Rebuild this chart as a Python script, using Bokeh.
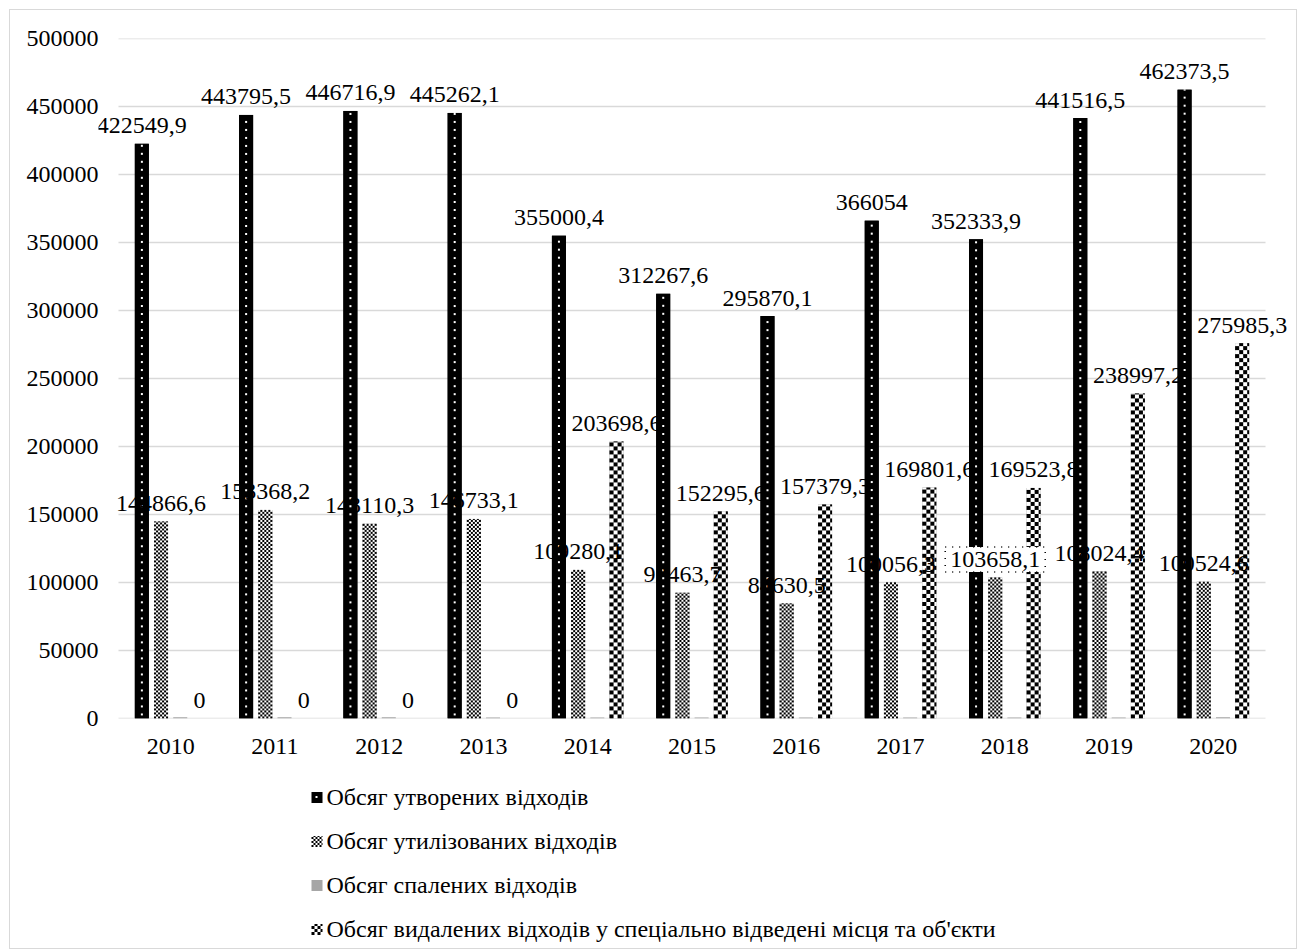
import numpy as np

from bokeh.plotting import figure
from bokeh.layouts import column
from bokeh.models import (ColumnDataSource, Range1d, SingleIntervalTicker, FixedTicker,
                          PrintfTickFormatter)
from bokeh.transform import dodge
from bokeh.embed import file_html
from bokeh.resources import INLINE

# --- data (тис. т) ---
years = ["2010", "2011", "2012", "2013", "2014", "2015", "2016", "2017", "2018", "2019", "2020"]
generated = [422549.9, 443795.5, 446716.9, 445262.1, 355000.4, 312267.6,
             295870.1, 366054, 352333.9, 441516.5, 462373.5]
utilized = [144866.6, 153368.2, 143110.3, 146733.1, 109280.1, 92463.7,
            84630.5, 100056.3, 103658.1, 108024.4, 100524.6]
incinerated = [900, 950, 880, 700, 650, 700, 750, 700, 800, 750, 850]
disposed = [0, 0, 0, 0, 203698.6, 152295.6, 157379.3, 169801.6, 169523.8, 238997.2, 275985.3]

series_names = [
    "Обсяг утворених відходів",
    "Обсяг утилізованих відходів",
    "Обсяг спалених відходів",
    "Обсяг видалених відходів у спеціально відведені місця та об'єкти",
]

y_ticks_step = 50000
y_max = 500000

FONT = "Liberation Serif"
GRID = "#d9d9d9"

# page geometry (content starts 10 px from the page corner, inside the 1 px border)
ORIGIN = 10
W, H_MAIN, H_LEG = 1286, 770, 168
FRAME_LEFT, FRAME_RIGHT = 98, 1294          # drawing area (labels may reach into it)
CAT_LEFT, CAT_RIGHT = 118, 1265             # span of the category slots / gridlines
MB_LEFT = FRAME_LEFT - ORIGIN
MB_RIGHT = ORIGIN + W - FRAME_RIGHT
MB_TOP, MB_BOTTOM = 28, 62
FRAME_H = H_MAIN - MB_TOP - MB_BOTTOM
n_cat = len(years)
CAT_PX = (CAT_RIGHT - CAT_LEFT) / n_cat
PX_PER_UNIT = FRAME_H / y_max

BAR_PX = 14
bw = BAR_PX / CAT_PX
pitch = 19.2 / CAT_PX
offs = [-1.5 * pitch, -0.5 * pitch, 0.5 * pitch, 1.5 * pitch]


def fmt(v):
    v = float(v)
    return str(int(v)) if v.is_integer() else f"{v:.1f}".replace(".", ",")


def rgba(mask, on, off):
    """Two-colour RGBA image (uint32) from a boolean mask."""
    img = np.empty(mask.shape, dtype=np.uint32)
    view = img.view(dtype=np.uint8).reshape(mask.shape + (4,))
    for k in range(3):
        view[..., k] = np.where(mask, on[k], off[k])
    view[..., 3] = 255
    return img


BLACK, WHITE = (0, 0, 0), (255, 255, 255)


def dotted(h, w, step=8):
    yy, xx = np.mgrid[0:h, 0:w]
    c = w // 2
    mask = ((yy % step) >= step // 2 - 1) & ((yy % step) <= step // 2) & (xx >= c - 1) & (xx <= c)
    return rgba(mask, WHITE, BLACK)


def checker(h, w, cell):
    yy, xx = np.mgrid[0:h, 0:w]
    return rgba(((yy // cell) + (xx // cell)) % 2 == 0, BLACK, WHITE)


def solid(h, w, color):
    return rgba(np.ones((h, w), dtype=bool), color, color)


centers = [i + 0.5 for i in range(n_cat)]

p = figure(x_range=Range1d(-(CAT_LEFT - FRAME_LEFT) / CAT_PX, n_cat + (FRAME_RIGHT - CAT_RIGHT) / CAT_PX),
           y_range=Range1d(0, y_max),
           width=W, height=H_MAIN, output_backend="svg", toolbar_location=None,
           min_border_left=MB_LEFT, min_border_right=MB_RIGHT,
           min_border_top=MB_TOP, min_border_bottom=MB_BOTTOM)
p.outline_line_color = None
p.background_fill_color = "white"
p.border_fill_color = "white"

# horizontal gridlines across the category slots
grid_vals = list(range(0, y_max + 1, y_ticks_step))
p.segment(x0=[0] * len(grid_vals), x1=[n_cat] * len(grid_vals), y0=grid_vals, y1=grid_vals,
          line_color=GRID, line_width=1.5)

src = ColumnDataSource(dict(
    xc=centers, generated=generated, utilized=utilized,
    incinerated=incinerated, disposed=disposed,
    lab_gen=[fmt(v) for v in generated],
    lab_util=[fmt(v) for v in utilized],
    lab_disp=[fmt(v) for v in disposed],
    box_alpha=[1.0 if y == "2018" else 0.0 for y in years],
))

fields = ["generated", "utilized", "incinerated", "disposed"]
base_colors = ["black", "#808080", "#a6a6a6", "#808080"]
for off, field, col in zip(offs, fields, base_colors):
    p.vbar(x=dodge("xc", off), top=field, width=bw, source=src,
           fill_color=col, line_color=None)

# pattern fills laid over the bars
textures = {
    "generated": lambda h, w: dotted(h, w),
    "utilized": lambda h, w: checker(h, w, 2),
    "disposed": lambda h, w: checker(h, w, 4),
}
for off, field in zip(offs, fields):
    if field not in textures:
        continue
    vals = src.data[field]
    keep = [i for i, v in enumerate(vals) if round(v * PX_PER_UNIT) > 0]
    tex_src = ColumnDataSource(dict(
        xc=[centers[i] for i in keep],
        img=[textures[field](int(round(vals[i] * PX_PER_UNIT)), BAR_PX) for i in keep],
        base=[0] * len(keep),
        dw=[bw] * len(keep),
        dh=[vals[i] for i in keep],
    ))
    p.image_rgba(image="img", x=dodge("xc", off - bw / 2), y="base",
                 dw="dw", dh="dh", source=tex_src)

label_kw = dict(source=src, text_align="center", text_baseline="alphabetic", y_offset=-18,
                text_font_size="24px", text_color="black", text_font={"value": FONT})
p.text(x=dodge("xc", offs[0]), y="generated", text="lab_gen", **label_kw)
p.text(x=dodge("xc", offs[1]), y="utilized", text="lab_util",
       background_fill_color="white", background_fill_alpha="box_alpha",
       border_line_color="black", border_line_alpha="box_alpha", border_line_dash="1 6",
       border_line_width=1.5, padding=5, **label_kw)
p.text(x=dodge("xc", offs[3]), y="disposed", text="lab_disp", **label_kw)

# axes
p.yaxis.ticker = SingleIntervalTicker(interval=y_ticks_step)
p.yaxis.formatter = PrintfTickFormatter(format="%d")
p.xaxis.ticker = FixedTicker(ticks=centers)
p.xaxis.major_label_overrides = {c: y for c, y in zip(centers, years)}
for ax in (p.xaxis[0], p.yaxis[0]):
    ax.axis_line_color = None
    ax.major_tick_line_color = None
    ax.minor_tick_line_color = None
    ax.major_tick_out = 0
    ax.major_tick_in = 0
    ax.minor_tick_out = 0
    ax.minor_tick_in = 0
    ax.major_label_text_font = FONT
    ax.major_label_text_font_size = "24px"
    ax.major_label_text_color = "black"
p.yaxis.major_label_standoff = 0
p.xaxis.major_label_standoff = 20
p.xgrid.grid_line_color = None
p.ygrid.grid_line_color = None

# legend strip under the chart (x in page pixels, y up from the strip bottom)
LEG_X, LEG_ROW0, LEG_PITCH, SW = 311, 152, 44, 11
pl = figure(width=W, height=H_LEG, output_backend="svg", toolbar_location=None,
            x_range=Range1d(FRAME_LEFT, FRAME_RIGHT), y_range=Range1d(0, H_LEG),
            x_axis_type=None, y_axis_type=None,
            min_border_left=MB_LEFT, min_border_right=MB_RIGHT, min_border_top=0, min_border_bottom=0)
pl.outline_line_color = None
pl.grid.grid_line_color = None
pl.background_fill_color = "white"
pl.border_fill_color = "white"

rows_y = [LEG_ROW0 - k * LEG_PITCH for k in range(len(series_names))]
swatches = [dotted(SW, SW, step=SW + 1), checker(SW, SW, 2), solid(SW, SW, (166, 166, 166)),
            checker(SW, SW, 3)]
pl.image_rgba(image=swatches, x=[LEG_X] * 4, y=[y - SW / 2 - 1 for y in rows_y],
              dw=[SW] * 4, dh=[SW] * 4)
pl.text(x=[LEG_X + SW + 4] * 4, y=rows_y, text=series_names, text_align="left",
        text_baseline="middle", text_font={"value": FONT}, text_font_size="24px", text_color="black")

layout = column(p, pl, spacing=0, margin=(9, 0, 0, 9),
                styles={"border": "1px solid " + GRID, "background": "white"})

open("out.html", "w").write(file_html(layout, INLINE))
